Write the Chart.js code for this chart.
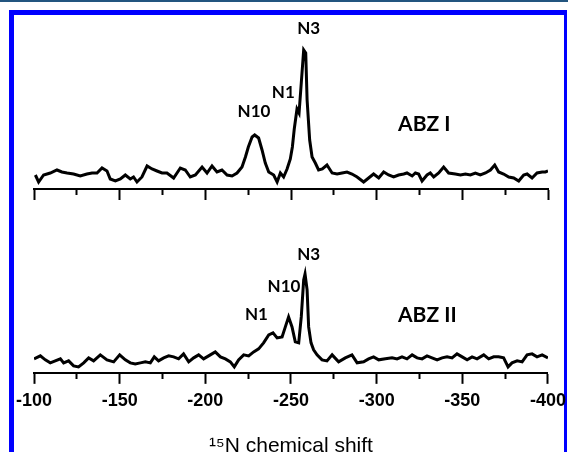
<!DOCTYPE html>
<html>
<head>
<meta charset="utf-8">
<script src="https://cdn.jsdelivr.net/npm/chart.js@4.4.0/dist/chart.umd.min.js"></script>
<style>
  html, body { margin: 0; padding: 0; background: #fff; overflow: hidden; width: 568px; height: 452px; }
  #topRule { position: absolute; left: 0; top: 0; width: 568px; height: 2px; background: #23557f; }
  #frame { position: absolute; left: 9px; top: 10px; width: 550px; height: 470px;
           border-left: 5px solid #0000ff; border-top: 5px solid #0000ff; border-right: 3px solid #0000ff; }
  canvas { position: absolute; left: 0; }
  #chartTop { top: 0; }
  #chartBottom { top: 200px; }
</style>
</head>
<body>
<div id="topRule"></div>
<div id="frame"></div>
<canvas id="chartTop" width="568" height="205"></canvas>
<canvas id="chartBottom" width="568" height="270"></canvas>
<script>
// 15N chemical shift (ppm) and intensity, ABZ I (upper trace)
const shiftTop = [
  -100.8, -102.7, -105.6, -109.5, -113.4, -116.3, -119.3, -123.1, -127.0, -130.9,
  -133.9, -136.8, -139.7, -142.6, -144.5, -147.5, -150.4, -153.3, -156.2, -158.1,
  -160.1, -163.0, -166.0, -168.9, -171.8, -174.7, -177.6, -181.5, -185.4, -188.3,
  -191.2, -194.2, -198.1, -201.0, -203.9, -206.8, -209.7, -212.7, -215.6, -218.5,
  -221.4, -223.4, -225.1, -227.3, -228.8, -231.1, -233.1, -235.0, -237.0, -239.9,
  -241.9, -243.8, -245.7, -247.7, -249.6, -250.8, -251.9, -253.5, -254.7, -256.0,
  -257.4, -258.6, -259.4, -260.9, -262.3, -264.2, -266.1, -268.3, -271.0, -274.0,
  -276.9, -279.8, -282.7, -285.6, -288.6, -292.4, -295.3, -298.2, -301.2, -304.1,
  -307.0, -309.9, -312.8, -315.8, -317.7, -320.7, -322.6, -324.5, -326.5, -329.4,
  -331.3, -333.3, -336.2, -339.1, -342.0, -345.9, -348.9, -351.8, -354.7, -357.6,
  -360.5, -363.5, -366.4, -368.9, -371.2, -374.1, -377.1, -380.0, -382.9, -385.8,
  -387.8, -390.7, -393.6, -396.6, -398.5, -400.0
];
const intensityTop = [
  14, 7, 14, 16, 19, 17, 16, 15, 13, 15,
  16, 16, 21, 18, 10, 8, 10, 14, 10, 12,
  7, 12, 23, 20, 18, 16, 16, 11, 21, 19,
  12, 14, 22, 16, 23, 17, 19, 14, 13, 16,
  22, 32, 42, 52, 54, 51, 39, 26, 17, 14,
  7, 16, 12, 20, 30, 42, 60, 80, 76, 106,
  139, 136, 89, 49, 32, 26, 19, 20, 24, 16,
  15, 16, 17, 15, 12, 7, 11, 15, 11, 17,
  14, 12, 14, 15, 16, 13, 16, 15, 8, 14,
  16, 12, 16, 22, 16, 15, 14, 15, 14, 16,
  14, 16, 19, 24, 17, 15, 12, 11, 8, 14,
  15, 11, 16, 17, 17, 18
];

// ABZ II (lower trace)
const shiftBottom = [
  -100.0, -103.7, -106.6, -109.5, -112.4, -115.4, -117.3, -120.2, -123.1, -126.0,
  -129.0, -131.9, -134.8, -138.7, -142.6, -146.5, -150.0, -153.3, -156.2, -159.1,
  -162.1, -165.0, -167.9, -170.2, -172.7, -175.7, -178.6, -181.5, -184.4, -187.3,
  -190.3, -193.2, -196.1, -199.0, -202.9, -205.8, -208.8, -211.7, -214.6, -216.9,
  -219.4, -222.4, -225.3, -228.2, -231.1, -234.0, -237.0, -239.5, -241.9, -244.8,
  -246.7, -248.6, -250.6, -252.5, -254.5, -256.0, -257.4, -258.2, -259.4, -260.3,
  -261.7, -263.2, -265.2, -268.1, -271.0, -274.0, -277.8, -281.7, -285.6, -288.6,
  -292.4, -295.3, -298.2, -301.2, -305.1, -309.0, -311.9, -314.8, -317.7, -320.7,
  -323.6, -326.5, -329.4, -332.3, -335.3, -338.2, -341.1, -344.0, -346.9, -349.9,
  -352.8, -355.7, -358.6, -362.5, -365.4, -368.3, -371.2, -374.1, -376.7, -379.0,
  -382.0, -384.9, -387.8, -390.7, -393.6, -396.6, -400.0
];
const intensityBottom = [
  14, 17, 13, 10, 12, 14, 10, 12, 7, 6,
  10, 15, 12, 18, 13, 11, 18, 13, 10, 9,
  10, 11, 10, 16, 12, 15, 17, 16, 14, 19,
  11, 15, 18, 14, 18, 21, 16, 14, 11, 6,
  13, 18, 17, 21, 24, 30, 38, 40, 35, 36,
  46, 56, 46, 31, 30, 56, 93, 99, 83, 46,
  30, 23, 18, 13, 12, 18, 11, 15, 18, 10,
  11, 14, 16, 13, 14, 15, 14, 16, 14, 18,
  15, 14, 17, 15, 13, 15, 16, 15, 19, 16,
  13, 16, 14, 18, 14, 16, 16, 15, 6, 10,
  12, 11, 18, 19, 16, 18, 15
];

const tickValues = [-100, -150, -200, -250, -300, -350, -400];

// peak labels (anchored at shift / intensity of the text centre)
const topLabelText = ['N10', 'N1', 'N3', 'ABZ I'];
const topLabelShift = [-228.4, -245.5, -260.3, -327.8];
const topLabelLevel = [78, 97, 161, 66];
const bottomLabelText = ['N1', 'N10', 'N3', 'ABZ II'];
const bottomLabelShift = [-229.8, -245.9, -260.3, -329.6];
const bottomLabelLevel = [59, 87, 119, 58];

const peakLabels = {
  id: 'peakLabels',
  afterDatasetsDraw(chart, args, opts) {
    const { ctx, scales: { x, y } } = chart;
    ctx.save();
    ctx.fillStyle = '#000';
    ctx.textAlign = 'center';
    ctx.textBaseline = 'alphabetic';
    opts.text.forEach((t, i) => {
      ctx.font = t.startsWith('ABZ') ? 'bold 21px Lato' : 'bold 17px Lato';
      const m = ctx.measureText(t);
      const px = x.getPixelForValue(opts.shift[i]);
      const py = y.getPixelForValue(opts.level[i]) + m.actualBoundingBoxAscent / 2;
      ctx.fillText(t, px, py);
    });
    ctx.restore();
  }
};

function makeChart(id, shifts, values, labels, bottom) {
  return new Chart(document.getElementById(id), {
    type: 'line',
    data: {
      datasets: [{
        data: shifts.map((s, i) => ({ x: s, y: values[i] })),
        borderColor: '#000',
        borderWidth: 3,
        pointRadius: 0,
        tension: 0,
        fill: false
      }]
    },
    options: {
      responsive: false,
      animation: false,
      layout: { padding: bottom ? { top: 23, bottom: 11, left: 34, right: 20 }
                                : { top: 39, bottom: 5, left: 34, right: 20 } },
      plugins: {
        legend: { display: false },
        tooltip: { enabled: false },
        peakLabels: labels
      },
      scales: {
        x: {
          type: 'linear',
          reverse: true,
          min: -400,
          max: -100,
          border: { display: true, color: '#000', width: 2 },
          grid: {
            drawOnChartArea: false,
            drawTicks: true,
            tickLength: 11,
            tickWidth: 2,
            tickColor: '#000',
            // minor ticks (every 25) drawn short
            tickBorderDash: (c) => (c.tick && tickValues.indexOf(c.tick.value) < 0) ? [5, 30] : []
          },
          ticks: {
            display: bottom,
            stepSize: 25,
            autoSkip: false,
            maxRotation: 0,
            padding: 2,
            color: '#000',
            font: { family: '"Liberation Sans", Arial', size: 18, weight: 'bold', lineHeight: 1.72 },
            callback: (v) => tickValues.indexOf(v) >= 0 ? String(v) : ''
          },
          title: {
            display: bottom,
            text: '\u00b9\u2075N chemical shift',
            color: '#000',
            font: { family: '"Liberation Sans", Arial', size: 21, weight: 'normal' },
            padding: { top: 15, bottom: 0 }
          }
        },
        y: {
          display: false,
          min: 0,
          max: 150
        }
      }
    },
    plugins: [peakLabels]
  });
}

makeChart('chartTop', shiftTop, intensityTop,
  { text: topLabelText, shift: topLabelShift, level: topLabelLevel }, false);
makeChart('chartBottom', shiftBottom, intensityBottom,
  { text: bottomLabelText, shift: bottomLabelShift, level: bottomLabelLevel }, true);
</script>
</body>
</html>
